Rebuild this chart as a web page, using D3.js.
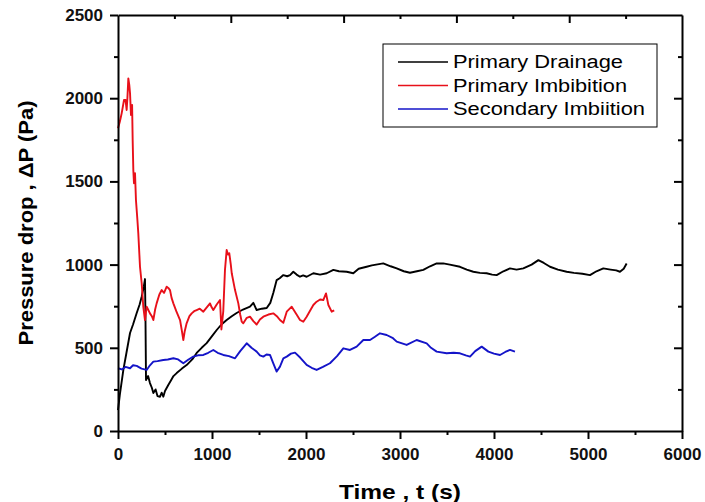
<!DOCTYPE html>
<html>
<head>
<meta charset="utf-8">
<script src="https://cdn.jsdelivr.net/npm/d3@7"></script>
<style>
  body { margin: 0; background: #fff; }
  svg { display: block; }
  .tick text { font-family: "Liberation Sans", Arial, sans-serif; font-weight: bold; font-size: 17px; fill: #111; }
  .axis path, .axis line { stroke: #000; stroke-width: 2px; }
</style>
</head>
<body>
<div id="chart"></div>
<script>
// series: [time (s), pressure drop (Pa)]
const primaryDrainage = [
  [0,126],[20,220],[57,367],[90,470],[128,589],[160,640],[199,709],[230,760],[252,807],[275,870],[287,913],
  [292,700],[298,306],[320,330],[340,288],[360,260],[376,228],[400,250],[420,210],[447,206],[465,230],[482,206],
  [500,240],[535,276],[560,300],[590,330],[624,348],[680,375],[730,396],[790,430],[837,469],[890,500],[943,528],
  [1000,570],[1050,607],[1100,640],[1156,667],[1210,690],[1262,709],[1330,730],[1404,747],[1440,770],[1475,727],
  [1530,735],[1582,739],[1620,770],[1652,829],[1688,907],[1720,918],[1759,937],[1800,930],[1830,937],[1865,957],
  [1900,940],[1936,927],[1970,935],[2007,927],[2078,948],[2150,940],[2220,948],[2291,968],[2350,960],[2433,957],
  [2503,948],[2560,975],[2645,987],[2700,995],[2822,1007],[2900,990],[2965,977],[3040,960],[3106,951],[3180,960],
  [3248,968],[3320,990],[3390,1007],[3460,1007],[3530,1000],[3638,987],[3710,970],[3780,957],[3850,950],[3922,948],
  [3980,940],[4028,937],[4100,960],[4170,977],[4240,970],[4312,977],[4400,1000],[4472,1027],[4530,1010],[4596,987],
  [4680,970],[4773,957],[4850,950],[4940,945],[5021,937],[5090,960],[5163,977],[5240,970],[5300,965],[5340,957],
  [5380,975],[5411,1007]
];

const primaryImbibition = [
  [0,1819],[20,1860],[39,1909],[64,1989],[80,1990],[92,1929],[100,2000],[110,2119],[120,2080],[128,2029],
  [138,1899],[150,1959],[156,1749],[163,1568],[170,1489],[181,1549],[191,1388],[205,1280],[216,1188],[234,987],
  [252,888],[269,747],[287,667],[305,747],[320,730],[340,707],[360,690],[376,667],[395,730],[411,767],[440,820],
  [465,847],[490,830],[518,867],[535,860],[553,847],[570,800],[589,767],[620,720],[660,667],[680,600],[695,547],
  [710,600],[730,647],[760,690],[784,707],[810,720],[837,727],[870,735],[908,717],[940,740],[979,767],[995,745],
  [1014,727],[1050,760],[1085,787],[1100,610],[1120,720],[1138,968],[1156,1088],[1170,1060],[1184,1068],
  [1200,1000],[1210,948],[1245,847],[1280,767],[1300,700],[1316,657],[1333,647],[1370,680],[1404,687],[1440,660],
  [1475,640],[1510,670],[1546,687],[1600,700],[1652,707],[1690,690],[1723,667],[1759,650],[1795,717],[1848,747],
  [1900,700],[1936,667],[1971,657],[2007,687],[2040,720],[2078,757],[2113,777],[2150,790],[2184,787],[2213,827],
  [2238,757],[2273,717],[2300,725]
];

const secondaryImbibition = [
  [0,377],[40,370],[80,385],[128,377],[160,395],[199,391],[250,375],[305,367],[340,395],[376,417],[420,420],
  [482,427],[530,430],[589,437],[640,430],[695,407],[750,430],[801,447],[850,455],[908,457],[960,470],[1014,487],
  [1060,470],[1120,457],[1180,450],[1245,437],[1300,480],[1369,527],[1420,500],[1475,477],[1510,455],[1546,447],
  [1580,460],[1617,457],[1650,410],[1688,357],[1723,387],[1759,437],[1795,447],[1840,465],[1883,471],[1940,440],
  [2007,397],[2060,380],[2113,367],[2180,385],[2255,407],[2330,450],[2397,497],[2468,487],[2539,507],[2610,547],
  [2681,547],[2730,565],[2787,587],[2858,577],[2920,560],[2965,537],[3071,517],[3177,547],[3284,527],[3330,500],
  [3390,477],[3496,467],[3570,470],[3638,467],[3700,455],[3745,447],[3800,480],[3869,507],[3940,477],[4000,465],
  [4064,457],[4120,475],[4170,487],[4223,477]
];

const seriesNames = ['Primary Drainage', 'Primary Imbibition', 'Secondary Imbiition'];
const seriesColors = ['#000000', '#e8101a', '#1414c8'];
const xTicks = [0, 1000, 2000, 3000, 4000, 5000, 6000];
const yTicks = [0, 500, 1000, 1500, 2000, 2500];

const width = 705, height = 502;
const margin = { top: 15, right: 23, bottom: 71, left: 118 };

const svg = d3.select('#chart').append('svg')
    .attr('width', width)
    .attr('height', height);

svg.append('rect').attr('width', width).attr('height', height).attr('fill', '#fff');

const x = d3.scaleLinear().domain([0, 6000]).range([margin.left, width - margin.right]);
const y = d3.scaleLinear().domain([0, 2500]).range([height - margin.bottom, margin.top]);

// lines
const line = d3.line().x(d => x(d[0])).y(d => y(d[1]));
const allSeries = [primaryDrainage, primaryImbibition, secondaryImbibition];
svg.append('g').selectAll('path')
    .data(allSeries)
    .join('path')
    .attr('d', line)
    .attr('fill', 'none')
    .attr('stroke', (d, i) => seriesColors[i])
    .attr('stroke-width', 1.9)
    .attr('stroke-linejoin', 'round');

// axes - bottom/left outward, top/right inward
const minorX = d3.range(500, 6000, 1000);
const minorY = d3.range(250, 2500, 500);
const yBottom = height - margin.bottom;

svg.append('g').attr('class', 'axis')
    .attr('transform', `translate(0,${yBottom})`)
    .call(d3.axisBottom(x).tickValues(xTicks).tickSize(8).tickSizeOuter(0).tickPadding(9).tickFormat(d3.format('d')));
svg.append('g').attr('class', 'axis')
    .attr('transform', `translate(0,${yBottom})`)
    .call(d3.axisBottom(x).tickValues(minorX).tickSize(4).tickSizeOuter(0).tickFormat(''))
    .select('.domain').remove();

svg.append('g').attr('class', 'axis')
    .attr('transform', `translate(${margin.left},0)`)
    .call(d3.axisLeft(y).tickValues(yTicks).tickSize(8).tickSizeOuter(0).tickPadding(7).tickFormat(d3.format('d')));
svg.append('g').attr('class', 'axis')
    .attr('transform', `translate(${margin.left},0)`)
    .call(d3.axisLeft(y).tickValues(minorY).tickSize(4).tickSizeOuter(0).tickFormat(''))
    .select('.domain').remove();

// top axis ticks are spaced 600 apart in the original
const topMajor = [1200, 2400, 3600, 4800];
const topMinor = [600, 1800, 3000, 4200, 5400];
svg.append('g').attr('class', 'axis')
    .attr('transform', `translate(0,${margin.top})`)
    .call(d3.axisTop(x).tickValues(topMajor).tickSize(-8).tickSizeOuter(0).tickFormat(''));
svg.append('g').attr('class', 'axis')
    .attr('transform', `translate(0,${margin.top})`)
    .call(d3.axisTop(x).tickValues(topMinor).tickSize(-4).tickSizeOuter(0).tickFormat(''))
    .select('.domain').remove();

svg.append('g').attr('class', 'axis')
    .attr('transform', `translate(${width - margin.right},0)`)
    .call(d3.axisRight(y).tickValues(yTicks.slice(1, -1)).tickSize(-8).tickSizeOuter(0).tickFormat(''));
svg.append('g').attr('class', 'axis')
    .attr('transform', `translate(${width - margin.right},0)`)
    .call(d3.axisRight(y).tickValues(minorY).tickSize(-4).tickSizeOuter(0).tickFormat(''))
    .select('.domain').remove();

// axis titles
svg.append('text')
    .attr('x', (margin.left + width - margin.right) / 2)
    .attr('y', 499)
    .attr('text-anchor', 'middle')
    .style('font-family', '"Liberation Sans", Arial, sans-serif')
    .style('font-weight', 'bold')
    .style('font-size', '21px')
    .attr('textLength', 122)
    .attr('lengthAdjust', 'spacingAndGlyphs')
    .text('Time , t (s)');

svg.append('text')
    .attr('transform', `translate(33,${(margin.top + yBottom) / 2}) rotate(-90)`)
    .attr('text-anchor', 'middle')
    .style('font-family', '"Liberation Sans", Arial, sans-serif')
    .style('font-weight', 'bold')
    .style('font-size', '21px')
    .attr('textLength', 245)
    .attr('lengthAdjust', 'spacingAndGlyphs')
    .text('Pressure drop , \u0394P (Pa)');

// legend
const legend = svg.append('g').attr('transform', 'translate(383,44)');
legend.append('rect')
    .attr('width', 274).attr('height', 83)
    .attr('fill', '#fff').attr('stroke', '#000').attr('stroke-width', 1);
const legendWidths = [170, 174, 192];
const rows = legend.selectAll('g.row')
    .data(seriesNames)
    .join('g')
    .attr('class', 'row')
    .attr('transform', (d, i) => `translate(0,${18 + i * 23.5})`);
rows.append('line')
    .attr('x1', 15).attr('x2', 65)
    .attr('stroke', (d, i) => seriesColors[i])
    .attr('stroke-width', 1.6);
rows.append('text')
    .attr('x', 70).attr('dy', '0.36em')
    .attr('textLength', (d, i) => legendWidths[i])
    .attr('lengthAdjust', 'spacingAndGlyphs')
    .style('font-family', '"Liberation Sans", Arial, sans-serif')
    .style('font-size', '18px')
    .text(d => d);
</script>
</body>
</html>
